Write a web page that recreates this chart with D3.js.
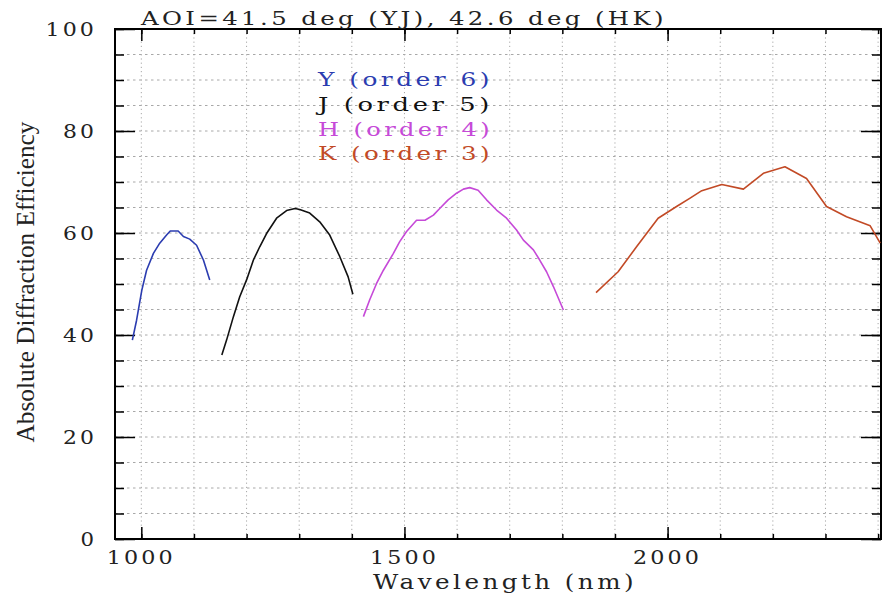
<!DOCTYPE html>
<html>
<head>
<meta charset="utf-8">
<script src="https://cdn.jsdelivr.net/npm/d3@7"></script>
<style>
  body { margin: 0; background: #fff; }
  text { font-family: "DejaVu Serif", serif; }
</style>
</head>
<body>
<div id="chart"></div>
<script>
// wavelength (nm) / efficiency (%)
var yBandWl  = [983, 991, 1001, 1010, 1023, 1035, 1048, 1055, 1070, 1080, 1092, 1105, 1118, 1130];
var yBandEff = [39.0, 42.9, 48.8, 52.7, 56.0, 58.0, 59.6, 60.4, 60.4, 59.3, 58.8, 57.6, 54.7, 50.8];

var jBandWl  = [1153, 1162, 1175, 1187, 1200, 1213, 1225, 1238, 1257, 1276, 1292, 1301, 1320, 1339, 1358, 1377, 1393, 1402];
var jBandEff = [36.1, 39.0, 43.6, 47.5, 50.8, 54.7, 57.3, 59.9, 62.9, 64.4, 64.8, 64.6, 63.9, 62.2, 59.6, 55.4, 51.4, 48.0];

var hBandWl  = [1422, 1434, 1447, 1460, 1479, 1491, 1504, 1523, 1539, 1555, 1567, 1583, 1599, 1612, 1624, 1640, 1656, 1675, 1694, 1713, 1726, 1745, 1757, 1770, 1783, 1802];
var hBandEff = [43.6, 46.9, 50.1, 52.7, 56.0, 58.3, 60.3, 62.5, 62.5, 63.5, 64.8, 66.5, 67.8, 68.6, 68.9, 68.4, 66.5, 64.5, 62.9, 60.6, 58.6, 56.7, 54.7, 52.4, 49.5, 44.9];

var kBandWl  = [1864, 1906, 1941, 1982, 2017, 2042, 2065, 2103, 2144, 2182, 2223, 2264, 2302, 2340, 2385, 2404];
var kBandEff = [48.3, 52.4, 57.3, 62.9, 65.2, 66.8, 68.3, 69.5, 68.6, 71.7, 73.0, 70.7, 65.2, 63.2, 61.4, 58.0];

var legendLabels = ["Y (order 6)", "J (order 5)", "H (order 4)", "K (order 3)"];
var bandColors = ["#2b3cb0", "#111111", "#c64ad8", "#c24a26"];

var xTickLabels = [1000, 1500, 2000];
var xMinorTicks = [1000, 1100, 1200, 1300, 1400, 1500, 1600, 1700, 1800, 1900, 2000, 2100, 2200, 2300, 2400];
var yTickLabels = [0, 20, 40, 60, 80, 100];
var yMinorTicks = d3.range(0, 101, 5);

var titleText = "AOI=41.5 deg (YJ), 42.6 deg (HK)";

var W = 882, H = 596;
var margin = {top: 29, right: 1, bottom: 57, left: 115},
    width = W - margin.left - margin.right,
    height = H - margin.top - margin.bottom;

var x = d3.scaleLinear().domain([950, 2405.5]).range([0, width]);
var y = d3.scaleLinear().domain([0, 100]).range([height, 0]);

var line = d3.line()
    .x(function(d) { return x(d[0]); })
    .y(function(d) { return y(d[1]); });

var svg = d3.select("#chart").append("svg")
    .attr("width", W)
    .attr("height", H);

var g = svg.append("g")
    .attr("transform", "translate(" + margin.left + "," + margin.top + ")");

// the original plot is stretched sideways: widen text to a fixed length,
// partly by spacing, partly by glyph stretch
function wide(sel, len) {
  sel.attr("letter-spacing", "0.14em")
     .attr("textLength", len)
     .attr("lengthAdjust", "spacingAndGlyphs");
}

// dotted grid
g.selectAll(".vgrid").data(xMinorTicks).enter().append("line")
    .attr("x1", function(d) { return x(d); })
    .attr("x2", function(d) { return x(d); })
    .attr("y1", 0).attr("y2", height)
    .attr("stroke", "#a8a8a8")
    .attr("stroke-width", 1)
    .attr("stroke-dasharray", "1.2,3");

g.selectAll(".hgrid").data(yMinorTicks.slice(1, -1)).enter().append("line")
    .attr("x1", 0).attr("x2", width)
    .attr("y1", function(d) { return y(d); })
    .attr("y2", function(d) { return y(d); })
    .attr("stroke", "#a8a8a8")
    .attr("stroke-width", 1)
    .attr("stroke-dasharray", "2.5,3.5");

// ticks on all four sides, pointing inward
function tickAxis(axis, transform) {
  var a = g.append("g").attr("transform", transform).call(axis);
  a.select(".domain").remove();
  a.selectAll("line").attr("stroke", "#000").attr("stroke-width", 1.5);
  return a;
}
tickAxis(d3.axisBottom(x).tickValues(xMinorTicks).tickSize(-5).tickFormat(""), "translate(0," + height + ")");
tickAxis(d3.axisBottom(x).tickValues(xTickLabels).tickSize(-12).tickFormat(""), "translate(0," + height + ")");
tickAxis(d3.axisTop(x).tickValues(xMinorTicks).tickSize(-5).tickFormat(""), "translate(0,0)");
tickAxis(d3.axisTop(x).tickValues(xTickLabels).tickSize(-12).tickFormat(""), "translate(0,0)");
tickAxis(d3.axisLeft(y).tickValues(yMinorTicks).tickSize(-9).tickFormat(""), "translate(0,0)");
tickAxis(d3.axisLeft(y).tickValues(yTickLabels).tickSize(-20).tickFormat(""), "translate(0,0)");
tickAxis(d3.axisRight(y).tickValues(yMinorTicks).tickSize(-9).tickFormat(""), "translate(" + width + ",0)");
tickAxis(d3.axisRight(y).tickValues(yTickLabels).tickSize(-20).tickFormat(""), "translate(" + width + ",0)");

// frame
g.append("rect")
    .attr("width", width).attr("height", height)
    .attr("fill", "none")
    .attr("stroke", "#000")
    .attr("stroke-width", 2);

// tick labels
g.selectAll(".xlab").data(xTickLabels).enter().append("text")
    .attr("x", function(d) { return x(d); })
    .attr("y", height + 25)
    .attr("text-anchor", "middle")
    .attr("font-size", 19)
    .attr("fill", "#222")
    .text(function(d) { return d; })
    .each(function(d) { wide(d3.select(this), String(d).length * 17.5 - 1); });

g.selectAll(".ylab").data(yTickLabels).enter().append("text")
    .attr("x", -18)
    .attr("y", function(d) { return y(d); })
    .attr("dy", "0.36em")
    .attr("text-anchor", "end")
    .attr("font-size", 19)
    .attr("fill", "#222")
    .text(function(d) { return d; })
    .each(function(d) { wide(d3.select(this), String(d).length * 17.5 - 1); });

// curves
var bands = [
  d3.zip(yBandWl, yBandEff),
  d3.zip(jBandWl, jBandEff),
  d3.zip(hBandWl, hBandEff),
  d3.zip(kBandWl, kBandEff)
];
for (var i = 0; i < bands.length; i++) {
  g.append("path")
      .datum(bands[i])
      .attr("fill", "none")
      .attr("stroke", bandColors[i])
      .attr("stroke-width", 1.6)
      .attr("stroke-linejoin", "round")
      .attr("d", line);
}

// legend
svg.selectAll(".legend").data(legendLabels).enter().append("text")
    .attr("x", 318)
    .attr("y", function(d, i) { return 86 + i * 24.8; })
    .attr("font-size", 18.5)
    .attr("fill", function(d, i) { return bandColors[i]; })
    .text(function(d) { return d; })
    .each(function() { wide(d3.select(this), 175); });

// title and axis labels
svg.append("text")
    .attr("x", 141).attr("y", 25)
    .attr("font-size", 18.5)
    .attr("fill", "#222")
    .text(titleText)
    .call(wide, 526);

svg.append("text")
    .attr("x", 373).attr("y", 589)
    .attr("font-size", 19.5)
    .attr("fill", "#222")
    .text("Wavelength (nm)")
    .call(wide, 264);

svg.append("text")
    .attr("transform", "translate(34,282) rotate(-90)")
    .attr("text-anchor", "middle")
    .style("font-family", "'Liberation Serif', serif")
    .attr("font-size", 25)
    .attr("fill", "#222")
    .text("Absolute Diffraction Efficiency")
    .attr("textLength", 321)
    .attr("lengthAdjust", "spacingAndGlyphs");
</script>
</body>
</html>
